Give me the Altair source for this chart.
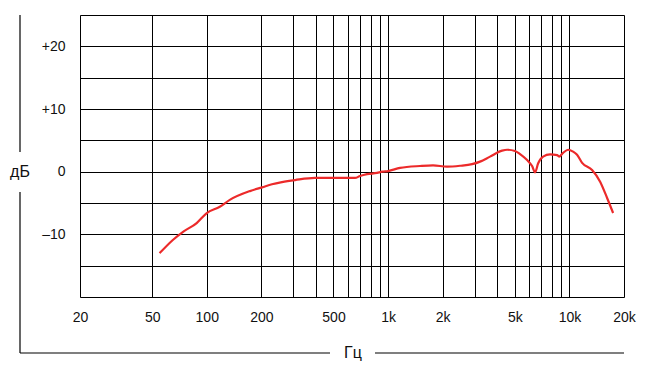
import altair as alt
import pandas as pd

freq = [55, 65, 74, 88, 100, 118, 134, 173, 202, 229, 260, 307, 395, 497, 657, 700, 766,
        869, 927, 1000, 1164, 1500, 1770, 2114, 2494, 2906, 3214, 3650, 4252, 4532, 5012,
        5344, 5844, 6226, 6468, 6718, 7162, 7824, 8552, 8770, 9228, 9834, 10472, 11020,
        11750, 13336, 14770, 16140, 17418]
db = [-13.0, -10.9, -9.6, -8.2, -6.6, -5.6, -4.5, -3.1, -2.5, -2.0, -1.66, -1.34, -1.0,
      -1.0, -1.0, -0.7, -0.4, -0.2, 0.0, 0.1, 0.6, 0.9, 1.0, 0.8, 0.94, 1.2, 1.6, 2.4,
      3.35, 3.5, 3.3, 2.8, 1.85, 0.9, -0.1, 1.3, 2.4, 2.75, 2.65, 2.4, 3.0, 3.5, 3.2, 2.7,
      1.4, 0.26, -1.6, -4.2, -6.6]

x_grid = [20, 50, 100, 200, 300, 400, 500, 600, 700, 800, 900, 1000,
          2000, 3000, 4000, 5000, 6000, 7000, 8000, 9000, 10000, 20000]
x_labels = [20, 50, 100, 200, 500, 1000, 2000, 5000, 10000, 20000]
y_grid = [-20, -15, -10, -5, 0, 5, 10, 15, 20, 25]
y_labels = [-10, 0, 10, 20]

df = pd.DataFrame({"f": freq, "db": db})

FONT = "Liberation Sans"

x_label_expr = (
    "indexof(" + str(x_labels) + ", datum.value) < 0 ? '' : "
    "(datum.value >= 1000 ? (datum.value / 1000) + 'k' : '' + datum.value)"
)
y_label_expr = (
    "indexof(" + str(y_labels) + ", datum.value) < 0 ? '' : "
    "(datum.value > 0 ? '+' + datum.value : (datum.value == 0 ? '0' : '–' + abs(datum.value)))"
)

curve = alt.Chart(df).mark_line(color="#ec2a2a", strokeWidth=2.2, interpolate="monotone").encode(
    x=alt.X("f:Q", scale=alt.Scale(type="log", domain=[20, 20000], nice=False),
            axis=alt.Axis(values=x_grid, labelExpr=x_label_expr, title=None, grid=True,
                          gridColor="black", gridOpacity=1, gridWidth=1, ticks=False,
                          domain=False, labelFont=FONT, labelFontSize=14, labelColor="#111",
                          labelPadding=13, labelFlush=False, labelOverlap=False)),
    y=alt.Y("db:Q", scale=alt.Scale(domain=[-20, 25], nice=False, zero=False),
            axis=alt.Axis(values=y_grid, labelExpr=y_label_expr, title=None, grid=True,
                          gridColor="black", gridOpacity=1, gridWidth=1, ticks=False,
                          domain=False, labelFont=FONT, labelFontSize=14, labelColor="#111",
                          labelPadding=15)),
)

one = alt.Data(values=[{}])

def rule(x, x2, y, y2):
    return alt.Chart(one).mark_rule(color="black", strokeWidth=1.2).encode(
        x=alt.value(x), x2=alt.value(x2), y=alt.value(y), y2=alt.value(y2))

deco = [
    rule(-60, -60, 0, 137),
    rule(-60, -60, 177, 338),
    rule(-60, 250, 338, 338),
    rule(295, 544, 338, 338),
]

t_db = alt.Chart(one).mark_text(text="дБ", font=FONT, fontSize=16, color="#111",
                                align="center", baseline="middle").encode(
    x=alt.value(-60), y=alt.value(157))
t_hz = alt.Chart(one).mark_text(text="Гц", font=FONT, fontSize=16, color="#111",
                                align="center", baseline="middle").encode(
    x=alt.value(273), y=alt.value(338))

chart = alt.layer(curve, *deco, t_db, t_hz).properties(
    width=544, height=282,
    autosize=alt.AutoSizeParams(type="none"),
    padding={"left": 72, "top": 7, "right": 22, "bottom": 64},
).configure_view(stroke="black", strokeWidth=1.2).configure(background="white")

chart.save("out.html", embed_options={"renderer": "svg", "actions": False})
